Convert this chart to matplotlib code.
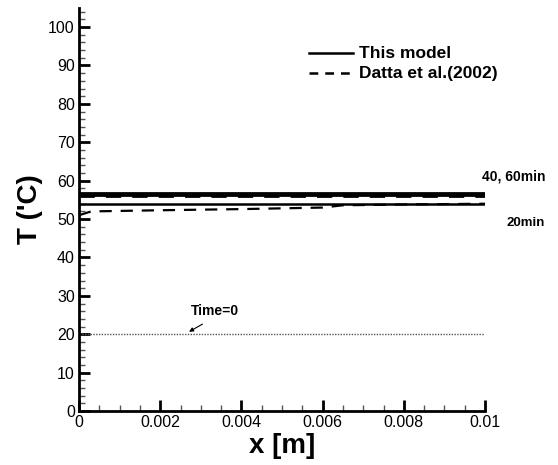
import matplotlib
matplotlib.use("Agg")
import matplotlib.pyplot as plt
from matplotlib.ticker import MultipleLocator

plt.rcParams['font.family'] = ['Liberation Sans', 'DejaVu Sans']

# Data
x_flat = [0.0, 0.01]
model_60 = [56.8, 56.8]
model_40 = [56.4, 56.4]
model_20 = [54.0, 54.0]
datta_4060 = [55.9, 55.9]
datta_20_x = [0.0, 0.0003, 0.002, 0.004, 0.006, 0.0065, 0.008, 0.01]
datta_20_y = [51.0, 52.0, 52.3, 52.6, 53.0, 53.6, 53.8, 54.0]
time0 = [20.0, 20.0]

fig = plt.figure(figsize=(5.58, 4.65), dpi=100)
ax = fig.add_axes([0.1416, 0.116, 0.7276, 0.867])

dash = (0, (5.5, 4))
ax.plot(x_flat, model_60, color='black', lw=2.0, solid_capstyle='butt')
ax.plot(x_flat, model_40, color='black', lw=2.0, solid_capstyle='butt')
ax.plot(x_flat, model_20, color='black', lw=1.8, solid_capstyle='butt')
ax.plot(x_flat, datta_4060, color='black', lw=2.0, ls=dash)
ax.plot(datta_20_x, datta_20_y, color='black', lw=1.6, ls=dash)
ax.plot(x_flat, time0, color='#555555', lw=1.0, ls=(0, (1, 1)))

# legend (manual)
lx0, lx1 = 0.00566, 0.00674
ax.plot([lx0, lx1], [93.2, 93.2], color='black', lw=1.8, clip_on=False)
ax.plot([lx0, lx1], [88.0, 88.0], color='black', lw=1.8, ls=(0, (3.5, 2.8)), clip_on=False)
ax.text(0.0069, 93.2, 'This model', fontsize=12.5, fontweight='bold', va='center', ha='left')
ax.text(0.0069, 88.0, 'Datta et al.(2002)', fontsize=12.5, fontweight='bold', va='center', ha='left')

ax.text(0.01148, 59.2, '40, 60min', fontsize=10, fontweight='bold', ha='right', va='bottom', clip_on=False)
ax.text(0.01148, 50.5, '20min', fontsize=9.5, fontweight='bold', ha='right', va='top', clip_on=False)
ax.text(0.00335, 26.0, 'Time=0', fontsize=10, fontweight='bold', ha='center', va='center')
ax.annotate('', xy=(0.00265, 20.3), xytext=(0.00310, 23.0),
            arrowprops=dict(arrowstyle='-|>', color='black', lw=0.8, mutation_scale=6))

ax.set_xlim(0, 0.01)
ax.set_ylim(0, 105)
ax.xaxis.set_major_locator(MultipleLocator(0.002))
ax.xaxis.set_minor_locator(MultipleLocator(0.0005))
ax.yaxis.set_major_locator(MultipleLocator(10))
ax.yaxis.set_minor_locator(MultipleLocator(2))
ax.set_xticks([0, 0.002, 0.004, 0.006, 0.008, 0.01])
ax.set_xticklabels(['0', '0.002', '0.004', '0.006', '0.008', '0.01'])
ax.set_yticks(range(0, 101, 10))

for s in ['top', 'right']:
    ax.spines[s].set_visible(False)
for s in ['left', 'bottom']:
    ax.spines[s].set_linewidth(2.0)

ax.tick_params(which='major', direction='in', length=8, width=2, labelsize=11.5, pad=3)
ax.tick_params(which='minor', direction='in', length=4, width=1, color='#555555')

ax.set_xlabel('x [m]', fontsize=20, fontweight='bold', labelpad=2)
ax.set_ylabel("T ('C)", fontsize=20, fontweight='bold', labelpad=4)

fig.savefig('out.png', dpi=100)
